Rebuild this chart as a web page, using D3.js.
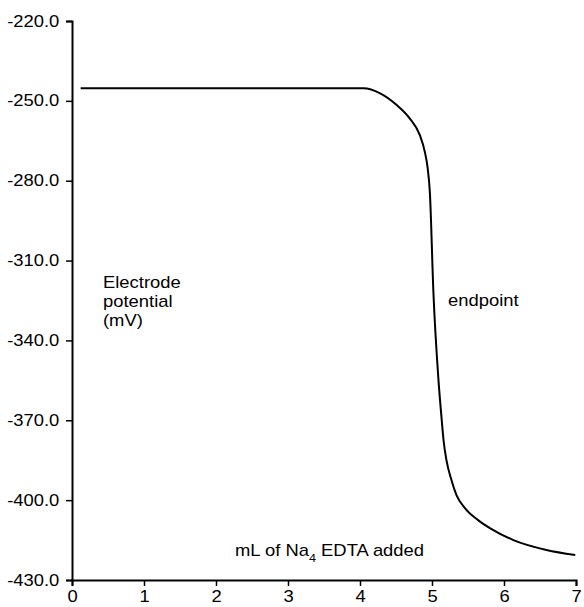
<!DOCTYPE html>
<html>
<head>
<meta charset="utf-8">
<script src="https://cdn.jsdelivr.net/npm/d3@7"></script>
<style>
  body { margin: 0; background: #fff; }
  svg text { font-family: "Liberation Sans", Arial, Helvetica, sans-serif; font-size: 16px; fill: #000; }
</style>
</head>
<body>
<div class="chart"></div>
<script>
const width = 584;
const height = 607;
const margin = { top: 21, right: 8, bottom: 27, left: 72 };
const innerWidth = width - margin.left - margin.right;
const innerHeight = height - margin.top - margin.bottom;
const stretch = "scale(1.15,1)"; // reference type is a bit wider than Liberation Sans

// titration curve
const volume = [0.12, 4.05, 4.28, 4.51, 4.69, 4.83, 4.90, 4.94, 4.97, 5.02,
  5.09, 5.135, 5.16, 5.20, 5.27, 5.34, 5.46, 5.64, 5.81, 6.13, 6.59, 6.99];
const potential = [-245.3, -245.3, -247.2, -251.6, -256.6, -262.8, -269.1, -275.3, -284.2,
  -322.2, -354.9, -369.9, -377.4, -384.9, -392.4, -398.1, -403.1, -407.5, -410.6,
  -415.0, -418.7, -420.6];

const xTicks = [0, 1, 2, 3, 4, 5, 6, 7];
const yTicks = [-220, -250, -280, -310, -340, -370, -400, -430];

const data = volume.map((v, i) => ({ v: v, p: potential[i] }));

let svg = d3
  .select(".chart")
  .append("svg")
  .attr("width", width)
  .attr("height", height);

let g = svg.append("g")
  .attr("transform", `translate(${margin.left},${margin.top})`);

const xScale = d3.scaleLinear()
  .domain([0, 7])
  .range([0, innerWidth]);

const yScale = d3.scaleLinear()
  .domain([-430, -220])
  .range([innerHeight, 0]);

// axes (plain hyphen for the minus sign, as in the reference)
let xAxis = g.append("g")
  .attr("transform", `translate(0,${innerHeight})`)
  .call(d3.axisBottom(xScale).tickValues(xTicks).tickFormat(d => String(d)).tickSizeOuter(0).tickSize(6).tickPadding(5));

let yAxis = g.append("g")
  .call(d3.axisLeft(yScale).tickValues(yTicks).tickFormat(d => d.toFixed(1)).tickSizeOuter(0).tickSize(6).tickPadding(5));

[xAxis, yAxis].forEach(ax => {
  ax.attr("font-family", null).attr("font-size", null);
  ax.select(".domain").attr("stroke", "#000").attr("stroke-width", 2);
  ax.selectAll(".tick line").attr("stroke", "#000").attr("stroke-width", 1.5);
  ax.selectAll(".tick text").attr("transform", stretch);
});

// curve
const line = d3.line()
  .x(d => xScale(d.v))
  .y(d => yScale(d.p))
  .curve(d3.curveMonotoneX);

g.append("path")
  .datum(data)
  .attr("fill", "none")
  .attr("stroke", "#000")
  .attr("stroke-width", 2)
  .attr("d", line);

// labels inside the plot
const yLabel = svg.append("text")
  .attr("transform", `translate(103,288) ${stretch}`);
["Electrode", "potential", "(mV)"].forEach((t, i) => {
  yLabel.append("tspan").attr("x", 0).attr("dy", i === 0 ? 0 : 19).text(t);
});

svg.append("text")
  .attr("transform", `translate(448,306) ${stretch}`)
  .text("endpoint");

let xLabel = svg.append("text")
  .attr("transform", `translate(235,556) ${stretch}`);
xLabel.append("tspan").text("mL of Na");
xLabel.append("tspan").attr("dy", 6).attr("font-size", "11px").text("4");
xLabel.append("tspan").attr("dy", -6).text(" EDTA added");
</script>
</body>
</html>
